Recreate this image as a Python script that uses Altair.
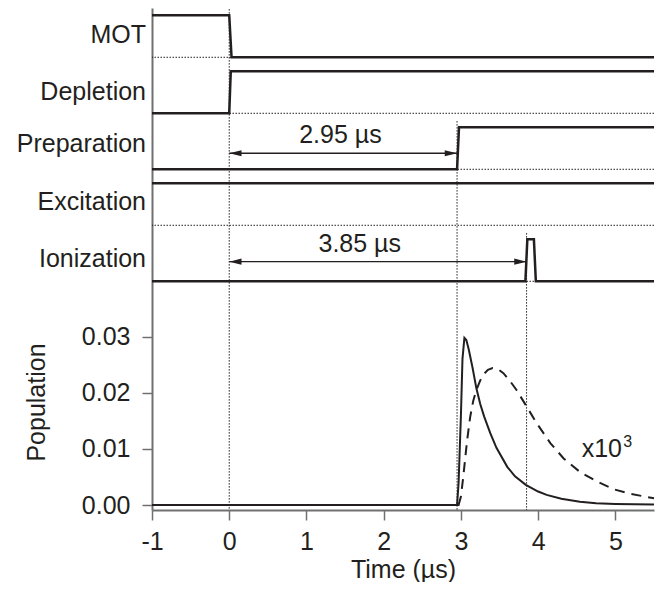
import altair as alt
import pandas as pd

# ---------------- data ----------------
CHANNELS = ["MOT", "Depletion", "Preparation", "Excitation", "Ionization"]

MOT_T = [-1, 0, 0.03, 5.5]
MOT_S = [1, 1, 0, 0]
DEPL_T = [-1, 0, 0.02, 5.5]
DEPL_S = [0, 0, 1, 1]
PREP_T = [-1, 2.95, 2.975, 5.5]
PREP_S = [0, 0, 1, 1]
EXC_T = [-1, 5.5]
EXC_S = [1, 1]
ION_T = [-1, 3.835, 3.86, 3.945, 3.97, 5.5]
ION_S = [0, 0, 1, 1, 0, 0]

MARK_T = [0, 2.95, 3.85]
MARK_CH = ["MOT", "Preparation", "Ionization"]

DELAY_END = [2.95, 3.85]
DELAY_CH = ["Preparation", "Ionization"]
DELAY_LABELS = ["2.95 \u00b5s", "3.85 \u00b5s"]
DELAY_LABEL_T = [1.44, 1.69]

POP_T_SOLID = [-1, 2.95, 2.97, 3.0, 3.02, 3.045, 3.07, 3.1, 3.15, 3.2, 3.25, 3.3,
               3.38, 3.46, 3.6, 3.7, 3.84, 4.0, 4.11, 4.3, 4.54, 4.75, 5.0, 5.5]
POP_SOLID = [0, 0, 0.004, 0.016, 0.026, 0.0298, 0.0294, 0.0278, 0.0245, 0.0208,
             0.0180, 0.0158, 0.0128, 0.0102, 0.0068, 0.0051, 0.0036, 0.0024,
             0.0018, 0.0011, 0.0006, 0.0003, 0.0002, 0.0001]

POP_T_DASH = [-1, 2.97, 3.0, 3.03, 3.08, 3.12, 3.16, 3.2, 3.25, 3.3, 3.35, 3.41,
              3.48, 3.55, 3.63, 3.72, 3.84, 3.98, 4.16, 4.33, 4.54, 4.76, 4.98,
              5.19, 5.5]
POP_DASH = [0, 0, 0.0015, 0.005, 0.0115, 0.0157, 0.0186, 0.0205, 0.0222, 0.0234,
            0.0241, 0.0244, 0.0242, 0.0235, 0.0222, 0.0205, 0.0178, 0.0146,
            0.011, 0.0083, 0.0059, 0.0042, 0.0028, 0.002, 0.0012]

SCALE_LABEL = "x10"
SCALE_EXP = "3"
SCALE_LABEL_T = 4.564
SCALE_LABEL_V = 0.00861
SCALE_EXP_T = 5.103
SCALE_EXP_V = 0.01039

X_TICKS = [-1, 0, 1, 2, 3, 4, 5]
Y_TICKS = [0, 0.01, 0.02, 0.03]

# ---------------- layout ----------------
W, H = 502, 502
X_DOM = [-1, 5.5]
T_DOM = [-4.084, 4.880]          # timing-diagram units (one channel = 1)
P_DOM = [-0.000891, 0.088592]    # population units
HIGH = 0.75
MARK_OVER = 0.11
ARROW_DY = {"Preparation": 0.286, "Ionization": 0.35}
DELAY_LABEL_DY = {"Preparation": 0.464, "Ionization": 0.523}
CH_LABEL_DY = [0.26, 0.24, 0.31, 0.27, 0.26]

INK = "#231f20"
GREY = "#707070"
FONT = "Liberation Sans"
FS = 25

n = len(CHANNELS)
base = {c: (n - 1 - i) for i, c in enumerate(CHANNELS)}

sig_rows = []
for c, ts, ss in zip(CHANNELS, [MOT_T, DEPL_T, PREP_T, EXC_T, ION_T],
                     [MOT_S, DEPL_S, PREP_S, EXC_S, ION_S]):
    for k, (t, s) in enumerate(zip(ts, ss)):
        sig_rows.append({"ch": c, "k": k, "t": t, "lvl": base[c] + HIGH * s})
sig = pd.DataFrame(sig_rows)

sep = pd.DataFrame({"lvl": [base[c] for c in CHANNELS]})
marks = pd.DataFrame({"t": MARK_T,
                      "top": [base[c] + HIGH + MARK_OVER for c in MARK_CH],
                      "bot": [T_DOM[0]] * len(MARK_T)})
arrows = pd.DataFrame({"t0": [0] * len(DELAY_END), "t1": DELAY_END,
                       "lvl": [base[c] + ARROW_DY[c] for c in DELAY_CH]})
dlabels = pd.DataFrame({"t": DELAY_LABEL_T, "txt": DELAY_LABELS,
                        "lvl": [base[c] + DELAY_LABEL_DY[c] for c in DELAY_CH]})
chlabels = pd.DataFrame({"txt": CHANNELS,
                         "lvl": [base[c] + d for c, d in zip(CHANNELS, CH_LABEL_DY)]})
solid = pd.DataFrame({"t": POP_T_SOLID, "v": POP_SOLID, "k": range(len(POP_SOLID))})
dash = pd.DataFrame({"t": POP_T_DASH, "v": POP_DASH, "k": range(len(POP_DASH))})
slab = pd.DataFrame({"t": [SCALE_LABEL_T], "v": [SCALE_LABEL_V], "txt": [SCALE_LABEL]})
sexp = pd.DataFrame({"t": [SCALE_EXP_T], "v": [SCALE_EXP_V], "txt": [SCALE_EXP]})

xs = alt.Scale(domain=X_DOM, nice=False, zero=False)
ts_ = alt.Scale(domain=T_DOM, nice=False, zero=False)
ps = alt.Scale(domain=P_DOM, nice=False, zero=False)

xax = alt.Axis(values=X_TICKS, labelExpr="'' + datum.value", labelPadding=9,
               title="Time (\u00b5s)", titleBaseline="alphabetic", titleY=67,
               labelFlush=False, labelOverlap=False)
yax = alt.Axis(values=Y_TICKS, format=".2f", labelPadding=12, title="Population",
               titleAngle=270, titleBaseline="bottom", titleAlign="center",
               titleX=-103, titleY=394, labelFlush=False, labelOverlap=False)


def X(f):
    return alt.X(f, type="quantitative", scale=xs, axis=xax)


def TY(f):
    return alt.Y(f, type="quantitative", scale=ts_, axis=None)


def PY(f):
    return alt.Y(f, type="quantitative", scale=ps, axis=yax)


sep_l = alt.Chart(sep).mark_rule(color=INK, strokeWidth=1, strokeDash=[1.5, 1.5]).encode(
    y=TY("lvl"))
mark_l = alt.Chart(marks).mark_rule(color=INK, strokeWidth=1, strokeDash=[1.5, 1.5]).encode(
    x=X("t"), y=TY("top"), y2="bot")
sig_l = alt.Chart(sig).mark_line(color=INK, strokeWidth=2.5, strokeJoin="miter",
                                 strokeCap="butt").encode(
    x=X("t"), y=TY("lvl"), detail="ch:N", order="k:Q")
arr_l = alt.Chart(arrows).mark_rule(color=INK, strokeWidth=1.3).encode(
    x=X("t0"), x2="t1", y=TY("lvl"))
head_left = alt.Chart(arrows).mark_point(
    shape="M0,0L1,-0.25L1,0.25Z", filled=True, color=INK, opacity=1, size=605,
    strokeWidth=0).encode(x=X("t0"), y=TY("lvl"))
head_right = alt.Chart(arrows).mark_point(
    shape="M0,0L-1,-0.25L-1,0.25Z", filled=True, color=INK, opacity=1, size=605,
    strokeWidth=0).encode(x=X("t1"), y=TY("lvl"))
dlab_l = alt.Chart(dlabels).mark_text(font=FONT, fontSize=FS, color=INK, align="center",
                                      baseline="alphabetic").encode(
    x=X("t"), y=TY("lvl"), text="txt:N")
chlab_l = alt.Chart(chlabels).mark_text(font=FONT, fontSize=FS, color=INK, align="right",
                                        baseline="alphabetic").encode(
    x=alt.value(-6), y=TY("lvl"), text="txt:N")

timing = alt.layer(sep_l, mark_l, sig_l, arr_l, head_left, head_right, dlab_l, chlab_l)

solid_l = alt.Chart(solid).mark_line(color=INK, strokeWidth=2).encode(
    x=X("t"), y=PY("v"), order="k:Q")
dash_l = alt.Chart(dash).mark_line(color=INK, strokeWidth=2, strokeDash=[10, 7]).encode(
    x=X("t"), y=PY("v"), order="k:Q")
slab_l = alt.Chart(slab).mark_text(font=FONT, fontSize=FS, color=INK, align="left",
                                   baseline="alphabetic").encode(
    x=X("t"), y=PY("v"), text="txt:N")
sexp_l = alt.Chart(sexp).mark_text(font=FONT, fontSize=16, color=INK, align="left",
                                   baseline="alphabetic").encode(
    x=X("t"), y=PY("v"), text="txt:N")

pop = alt.layer(solid_l, dash_l, slab_l, sexp_l)

chart = alt.layer(pop, timing).resolve_scale(y="independent").properties(
    width=W, height=H,
    autosize=alt.AutoSizeParams(type="none"),
    padding={"left": 144, "top": 0, "right": 9, "bottom": 72},
).configure_view(stroke=None).configure_axis(
    domainColor=GREY, domainWidth=2, tickColor=GREY, tickWidth=1.5, tickSize=10,
    labelFont=FONT, labelFontSize=FS, labelColor=INK,
    titleFont=FONT, titleFontSize=FS, titleFontWeight="normal", titleColor=INK,
    grid=False,
)

chart.save("out.html", embed_options={"renderer": "svg", "actions": False})
